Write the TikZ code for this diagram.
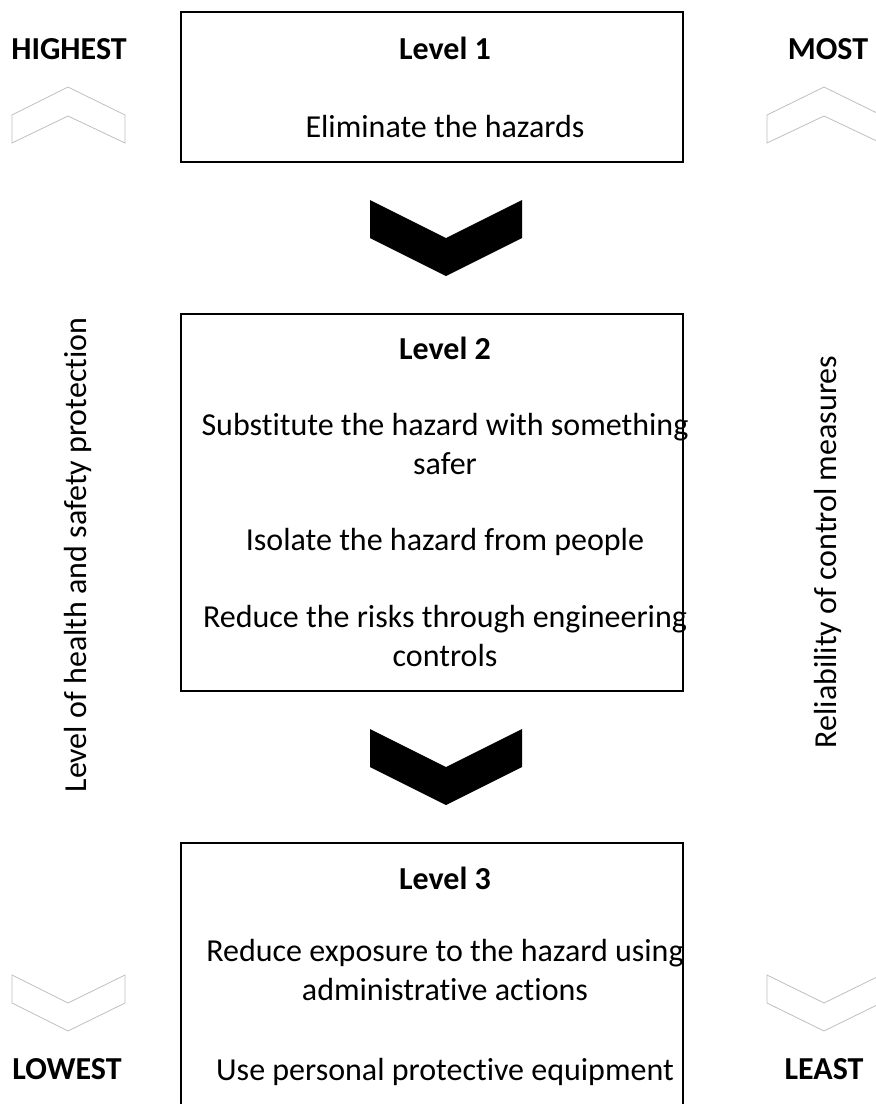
\documentclass[tikz,border=0pt]{standalone}
\usepackage{fontspec}
\setmainfont{Carlito}[Ligatures=NoCommon]
\usetikzlibrary{positioning}

\tikzset{
  levelbox/.style={draw, line width=1.5pt, minimum width=502pt},
  bigchev/.style={fill=black, draw=none},
  thinchev/.style={draw=black!25, line width=0.8pt},
  sidetext/.style={font=\bfseries},
  para/.style={align=center, inner sep=0pt}
}

\begin{document}
\begin{tikzpicture}[x=1pt,y=-1pt]
\clip (0,0) rectangle (876,1104);
\fontsize{32pt}{39pt}\selectfont
% boxes
\node (box1) [levelbox, minimum height=150pt] at (432,87) {};
\node (box2) [levelbox, minimum height=377pt] at (432,502.5) {};
\node (box3) [levelbox, minimum height=290pt] at (432,988) {};
% box texts
\node (lev1) [para] at (445,48) {\textbf{Level 1}};
\node (elim) [para] at (445,127) {Eliminate the hazards};
\node (lev2) [para] at (445,348) {\textbf{Level 2}};
\node (subst) [para] at (445,444) {Substitute the hazard with something\\safer};
\node (isol) [para] at (445,542) {Isolate the hazard from people};
\node (engin) [para] at (445,636) {Reduce the risks through engineering\\controls};
\node (lev3) [para] at (445,878) {\textbf{Level 3}};
\node (admin) [para] at (445,970) {Reduce exposure to the hazard using\\administrative actions};
\node (ppe) [para] at (445,1072) {Use personal protective equipment};
% black chevrons between boxes
\draw[bigchev] (370,200) -- (446,238) -- (522,200) -- (522,238) -- (446,276) -- (370,238) -- cycle;
\draw[bigchev] (370,729) -- (446,767) -- (522,729) -- (522,767) -- (446,805) -- (370,767) -- cycle;
% side labels
\node (highest) [sidetext] at (69,49) {HIGHEST};
\node (lowest) [sidetext] at (67,1069) {LOWEST};
\node (most) [sidetext] at (828,49) {MOST};
\node (least) [sidetext] at (824,1069) {LEAST};
\node (protect) [rotate=90, inner sep=0pt] at (78,555) {Level of health and safety protection};
\node (reliab) [rotate=90, inner sep=0pt] at (828,552) {Reliability of control measures};
% outline chevrons
\draw[thinchev] (12,115) -- (68,87) -- (125,115) -- (125,143) -- (68,116) -- (12,143) -- cycle;
\draw[thinchev] (767,115) -- (824,87) -- (881,115) -- (881,143) -- (824,116) -- (767,143) -- cycle;
\draw[thinchev] (12,975) -- (68,1003) -- (125,975) -- (125,1003) -- (68,1031) -- (12,1003) -- cycle;
\draw[thinchev] (767,975) -- (824,1003) -- (881,975) -- (881,1003) -- (824,1031) -- (767,1003) -- cycle;
\end{tikzpicture}
\end{document}
